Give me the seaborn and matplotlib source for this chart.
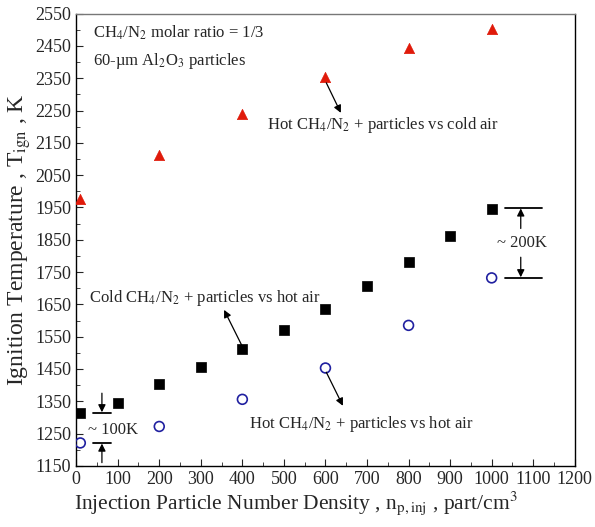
import numpy as np
import pandas as pd
import matplotlib
matplotlib.use('Agg')
import matplotlib.pyplot as plt
import seaborn as sns

# data
hot_cold_x = [10, 200, 400, 600, 800, 1000]
hot_cold_T = [1975, 2113, 2240, 2355, 2445, 2503]

cold_hot_x = [10, 100, 200, 300, 400, 500, 600, 700, 800, 900, 1000]
cold_hot_T = [1314, 1346, 1405, 1455, 1513, 1570, 1636, 1706, 1780, 1862, 1946]

hot_hot_x = [10, 200, 400, 600, 800, 1000]
hot_hot_T = [1221, 1272, 1356, 1453, 1585, 1732]

x_ticks = list(range(0, 1201, 100))
y_ticks = list(range(1150, 2551, 100))

sns.set_style('ticks')
plt.rcParams['font.family'] = ['Liberation Serif', 'DejaVu Serif']
plt.rcParams['mathtext.fontset'] = 'stix'

fig = plt.figure(figsize=(5.95, 5.27), dpi=100)
ax = fig.add_axes([0.128, 0.116, 0.838, 0.858])

df_hc = pd.DataFrame({'n': hot_cold_x, 'T': hot_cold_T})
df_ch = pd.DataFrame({'n': cold_hot_x, 'T': cold_hot_T})
df_hh = pd.DataFrame({'n': hot_hot_x, 'T': hot_hot_T})

sns.scatterplot(data=df_hc, x='n', y='T', ax=ax, marker='^', s=55,
                color='#e01a0a', edgecolor='#e01a0a', linewidth=0.5, zorder=3)
sns.scatterplot(data=df_ch, x='n', y='T', ax=ax, marker='s', s=55,
                color='black', edgecolor='black', linewidth=0.5, zorder=3)
sns.scatterplot(data=df_hh, x='n', y='T', ax=ax, marker='o', s=50,
                facecolor='none', edgecolor='#2020a0', linewidth=1.2, zorder=3)

ax.set_xlim(0, 1200)
ax.set_ylim(1150, 2550)
ax.set_xticks(x_ticks)
ax.set_yticks(y_ticks)
ax.set_xticks(np.arange(50, 1200, 100), minor=True)
ax.set_yticks(np.arange(1200, 2550, 100), minor=True)
ax.tick_params(which='both', direction='in', labelsize=13, top=False, right=False)
ax.tick_params(which='major', length=5)
ax.tick_params(which='minor', length=3)
for s in ax.spines.values():
    s.set_linewidth(1.0)
    s.set_color('black')
ax.spines['top'].set_color('#777777')

ax.set_xlabel(r'Injection Particle Number Density , n$_{\rm p,inj}$ , part/cm$^3$',
              fontsize=15.5, labelpad=2)
ax.xaxis.set_label_coords(0.44, -0.052)
ax.set_ylabel(r'Ignition Temperature , T$_{\rm ign}$ , K', fontsize=17, labelpad=2)

ax.text(40, 2490, r'CH$_4$/N$_2$ molar ratio = 1/3', fontsize=12, va='center')
ax.text(40, 2405, '60-µm Al$_2$O$_3$ particles', fontsize=12, va='center')

arrow = dict(arrowstyle='-|>', color='black', lw=0.9, mutation_scale=11,
             shrinkA=0, shrinkB=0)

ax.text(460, 2205, r'Hot CH$_4$/N$_2$ + particles vs cold air', fontsize=12, va='center')
ax.annotate('', xy=(637, 2243), xytext=(602, 2336), arrowprops=arrow)

ax.text(30, 1670, r'Cold CH$_4$/N$_2$ + particles vs hot air', fontsize=12, va='center')
ax.annotate('', xy=(356, 1633), xytext=(399, 1522), arrowprops=arrow)

ax.text(415, 1280, r'Hot CH$_4$/N$_2$ + particles vs hot air', fontsize=12, va='center')
ax.annotate('', xy=(642, 1336), xytext=(602, 1440), arrowprops=arrow)

# ~100K marker
ax.plot([41, 84], [1314, 1314], color='black', lw=1.3)
ax.plot([41, 84], [1221, 1221], color='black', lw=1.3)
ax.annotate('', xy=(62, 1316), xytext=(62, 1375), arrowprops=arrow)
ax.annotate('', xy=(62, 1219), xytext=(62, 1160), arrowprops=arrow)
ax.text(28, 1262, '~ 100K', fontsize=12, va='center')

# ~200K marker
ax.plot([1032, 1121], [1949, 1949], color='black', lw=1.3)
ax.plot([1032, 1121], [1732, 1732], color='black', lw=1.3)
ax.annotate('', xy=(1070, 1947), xytext=(1070, 1885), arrowprops=arrow)
ax.annotate('', xy=(1070, 1734), xytext=(1070, 1796), arrowprops=arrow)
ax.text(1012, 1840, '~ 200K', fontsize=12, va='center')

fig.savefig('out.png', dpi=100)
